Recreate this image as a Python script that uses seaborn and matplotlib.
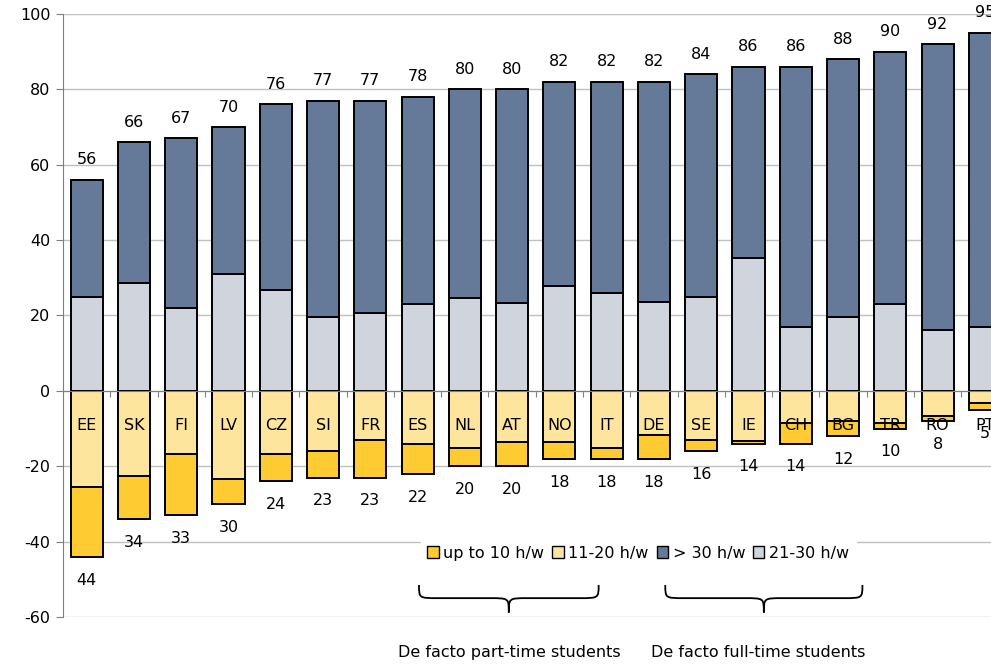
import matplotlib.pyplot as plt
import numpy as np
import seaborn as sns
from matplotlib.patches import Patch, PathPatch
from matplotlib.path import Path

paises = ['EE', 'SK', 'FI', 'LV', 'CZ', 'SI', 'FR', 'ES', 'NL', 'AT',
          'NO', 'IT', 'DE', 'SE', 'IE', 'CH', 'BG', 'TR', 'RO', 'PT']
# de facto full-time: total and 21-30 h/w part (rest is > 30 h/w)
total_completo = [56, 66, 67, 70, 76, 77, 77, 78, 80, 80,
                  82, 82, 82, 84, 86, 86, 88, 90, 92, 95]
h21_30 = [25, 28.6, 22, 31, 26.8, 19.6, 20.7, 23, 24.7, 23.3,
          27.9, 26, 23.6, 25, 35.3, 17, 19.6, 23, 16.2, 17]
# de facto part-time: total and 11-20 h/w part (rest is up to 10 h/w)
total_parcial = [44, 34, 33, 30, 24, 23, 23, 22, 20, 20,
                 18, 18, 18, 16, 14, 14, 12, 10, 8, 5]
h11_20 = [25.5, 22.5, 16.7, 23.3, 16.7, 15.9, 13, 14.1, 15.2, 13.6,
          13.6, 15.2, 11.7, 13, 13.3, 8.5, 8, 8.4, 6.6, 3.3]

col_oscuro = '#657a98'
col_gris = '#cfd4dd'
col_amarillo = '#fee59d'
col_oro = '#fecb33'

h30 = np.array(total_completo) - np.array(h21_30)
h10 = np.array(total_parcial) - np.array(h11_20)

plt.rcParams['font.family'] = ['DejaVu Sans']
fs = 11.5
fig = plt.figure(figsize=(9.91, 6.65), dpi=100)
ax = fig.add_axes([0.0636, 0.0722, 0.9364, 0.9068])

estilo = dict(width=0.68, edgecolor='black', linewidth=1.4, zorder=3)
sns.barplot(x=paises, y=h21_30, color=col_gris, saturation=1, ax=ax, **estilo)
sns.barplot(x=paises, y=h30, bottom=h21_30, color=col_oscuro, saturation=1, ax=ax, **estilo)
sns.barplot(x=paises, y=-np.array(h11_20), color=col_amarillo, saturation=1, ax=ax, **estilo)
sns.barplot(x=paises, y=-h10, bottom=-np.array(h11_20), color=col_oro, saturation=1, ax=ax, **estilo)

for i, p in enumerate(paises):
    ax.text(i, total_completo[i] + 5.3, str(total_completo[i]), ha='center', va='center',
            fontsize=fs, clip_on=False, zorder=5)
    ax.text(i, -total_parcial[i] - 6.2, str(total_parcial[i]), ha='center', va='center',
            fontsize=fs, clip_on=False, zorder=5)
    ax.text(i, -9.3, p, ha='center', va='center', fontsize=fs, zorder=5)

ax.set_xlim(-0.5, 19.13)
ax.set_ylim(-60, 100)
ax.set_yticks(range(-60, 101, 20))
ax.set_yticklabels([str(v) for v in range(-60, 101, 20)], fontsize=fs)
ax.set_xticks(np.arange(0.5, 19.5, 1))
ax.set_xticklabels([])
ax.set_xlabel('')
ax.set_ylabel('')
ax.grid(axis='y', color='#c0c0c0', linewidth=1, zorder=0)
ax.set_axisbelow(True)
sns.despine(ax=ax, top=True, right=True)
ax.spines['bottom'].set_position(('data', 0))
ax.spines['bottom'].set_color('#7f7f7f')
ax.spines['bottom'].set_zorder(4)
ax.spines['left'].set_color('#7f7f7f')
ax.tick_params(axis='x', length=4, color='#7f7f7f', direction='out')
ax.tick_params(axis='y', length=5, color='#7f7f7f', pad=4)

handles = [Patch(facecolor=col_oro, edgecolor='black', linewidth=1),
           Patch(facecolor=col_amarillo, edgecolor='black', linewidth=1),
           Patch(facecolor=col_oscuro, edgecolor='black', linewidth=1),
           Patch(facecolor=col_gris, edgecolor='black', linewidth=1)]
etiquetas = ['up to 10 h/w', '11-20 h/w', '> 30 h/w', '21-30 h/w']
leg = ax.legend(handles, etiquetas, ncol=4, loc='center', bbox_to_anchor=(0.62, 0.106),
                frameon=True, fancybox=False, edgecolor='white', facecolor='white', framealpha=1,
                fontsize=fs, handlelength=0.7, handleheight=0.7, handletextpad=0.3,
                columnspacing=0.5, borderpad=0.4)
leg.set_zorder(6)


def llave(x0, x1, ytop=-51.5, ymid=-55.0, ytip=-58.8, r=0.4):
    xc = (x0 + x1) / 2
    verts = [(x0, ytop), (x0, ymid), (x0, ymid), (x0 + r, ymid),
             (xc - r, ymid), (xc, ymid), (xc, ymid), (xc, ytip),
             (xc, ymid), (xc, ymid), (xc + r, ymid),
             (x1 - r, ymid), (x1, ymid), (x1, ymid), (x1, ytop)]
    codes = [Path.MOVETO, Path.CURVE4, Path.CURVE4, Path.CURVE4,
             Path.LINETO, Path.CURVE4, Path.CURVE4, Path.CURVE4,
             Path.CURVE4, Path.CURVE4, Path.CURVE4,
             Path.LINETO, Path.CURVE4, Path.CURVE4, Path.CURVE4]
    ax.add_patch(PathPatch(Path(verts, codes), facecolor='none', edgecolor='black',
                           linewidth=1.3, clip_on=False, zorder=7))


llave(7.03, 10.83)
llave(12.24, 16.41)
ax.text(8.93, -69.3, 'De facto part-time students', ha='center', va='center',
        fontsize=fs, clip_on=False)
ax.text(14.2, -69.3, 'De facto full-time students', ha='center', va='center',
        fontsize=fs, clip_on=False)

fig.savefig('out.png', dpi=100)
